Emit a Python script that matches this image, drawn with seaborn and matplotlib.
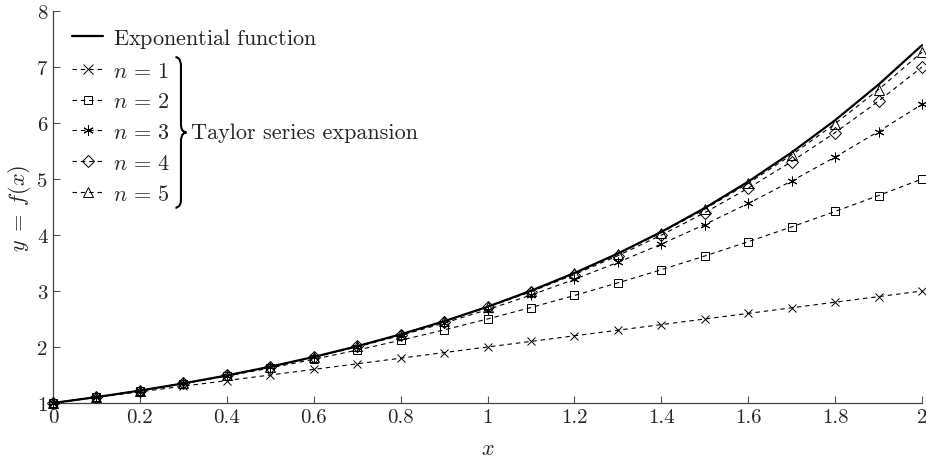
import numpy as np
import pandas as pd
import seaborn as sns
import matplotlib
matplotlib.use("Agg")
import matplotlib.pyplot as plt
from matplotlib.lines import Line2D
from matplotlib.path import Path
from matplotlib.patches import PathPatch

# ---------------- data ----------------
x_vals = [0.0, 0.1, 0.2, 0.3, 0.4, 0.5, 0.6, 0.7, 0.8, 0.9, 1.0,
          1.1, 1.2, 1.3, 1.4, 1.5, 1.6, 1.7, 1.8, 1.9, 2.0]
exp_vals = [1.0, 1.10517, 1.22140, 1.34986, 1.49182, 1.64872, 1.82212, 2.01375,
            2.22554, 2.45960, 2.71828, 3.00417, 3.32012, 3.66930, 4.05520,
            4.48169, 4.95303, 5.47395, 6.04965, 6.68589, 7.38906]
n1_vals = [1.0, 1.1, 1.2, 1.3, 1.4, 1.5, 1.6, 1.7, 1.8, 1.9, 2.0,
           2.1, 2.2, 2.3, 2.4, 2.5, 2.6, 2.7, 2.8, 2.9, 3.0]
n2_vals = [1.0, 1.105, 1.22, 1.345, 1.48, 1.625, 1.78, 1.945, 2.12, 2.305, 2.5,
           2.705, 2.92, 3.145, 3.38, 3.625, 3.88, 4.145, 4.42, 4.705, 5.0]
n3_vals = [1.0, 1.10517, 1.22133, 1.3495, 1.49067, 1.64583, 1.816, 2.00217,
           2.20533, 2.4265, 2.66667, 2.92683, 3.208, 3.51117, 3.83733, 4.1875,
           4.56267, 4.96383, 5.392, 5.84817, 6.33333]
n4_vals = [1.0, 1.10517, 1.2214, 1.34984, 1.49173, 1.64844, 1.8214, 2.01217,
           2.2224, 2.45384, 2.70833, 2.98784, 3.2944, 3.63017, 3.9974, 4.39844,
           4.83573, 5.31184, 5.8294, 6.39117, 7.0]
n5_vals = [1.0, 1.10517, 1.2214, 1.34986, 1.49182, 1.6487, 1.82205, 2.01357,
           2.22513, 2.45876, 2.71667, 3.00126, 3.31514, 3.66111, 4.04222, 4.46172,
           4.92311, 5.43016, 5.98686, 6.59751, 7.26667]
series_labels = [r"$n\,=\,1$", r"$n\,=\,2$", r"$n\,=\,3$", r"$n\,=\,4$", r"$n\,=\,5$"]
exp_label = r"$\mathrm{Exponential\ function}$"
brace_label = "Taylor series expansion"
x_ticks = [0, 0.2, 0.4, 0.6, 0.8, 1, 1.2, 1.4, 1.6, 1.8, 2]
y_ticks = [1, 2, 3, 4, 5, 6, 7, 8]

# ---------------- style ----------------
sns.set_style("white")
plt.rcParams["font.family"] = ["cmr10", "DejaVu Serif"]
plt.rcParams["mathtext.fontset"] = "cm"
plt.rcParams["axes.formatter.use_mathtext"] = True
plt.rcParams["axes.unicode_minus"] = False

FS = 16
TFS = 15
fig = plt.figure(figsize=(9.26, 4.64), dpi=100)
ax = fig.add_axes([53 / 926, 1 - 404 / 464, (922 - 53) / 926, (404 - 12) / 464])

markers = ["x", "s", (6, 2, 0), "D", "^"]
msizes = [6, 5.5, 7, 6, 7]
series = [n1_vals, n2_vals, n3_vals, n4_vals, n5_vals]

handles = [Line2D([], [], color="black", lw=1.6)]
for vals, m, ms in zip(series, markers, msizes):
    df = pd.DataFrame({"x": x_vals, "y": vals})
    sns.lineplot(data=df, x="x", y="y", ax=ax, color="black", lw=0.8,
                 linestyle=(0, (4, 3.5)), marker=m, markersize=ms,
                 markerfacecolor="none", markeredgecolor="black",
                 markeredgewidth=0.7, clip_on=False, zorder=3)
    handles.append(Line2D([], [], color="black", lw=0.8, linestyle=(0, (4, 3.5)),
                          marker=m, markersize=ms + 0.5, markerfacecolor="none",
                          markeredgecolor="black", markeredgewidth=0.7))

df_exp = pd.DataFrame({"x": x_vals, "y": exp_vals})
sns.lineplot(data=df_exp, x="x", y="y", ax=ax, color="black", lw=1.6, zorder=4,
             clip_on=False)

ax.set_xlim(0, 2)
ax.set_ylim(1, 8)
ax.set_xticks(x_ticks)
ax.set_yticks(y_ticks)
ax.set_xticklabels([f"{v:g}" for v in x_ticks])
ax.set_yticklabels([f"{v:g}" for v in y_ticks])
ax.tick_params(axis="both", direction="in", length=5, width=0.8, color="#555555",
               labelsize=TFS, left=True, bottom=True, top=False, right=False)
ax.tick_params(axis="x", pad=4)
ax.tick_params(axis="y", pad=4)
for s in ["top", "right"]:
    ax.spines[s].set_visible(False)
for s in ["left", "bottom"]:
    ax.spines[s].set_color("#444444")
    ax.spines[s].set_linewidth(0.9)
ax.set_xlabel(r"$x$", fontsize=FS, labelpad=9)
ax.set_ylabel(r"$y\;=\;f(x)$", fontsize=FS, labelpad=3)

labels = [exp_label] + series_labels
leg = ax.legend(handles, labels, loc="upper left", frameon=False, fontsize=FS,
                bbox_to_anchor=(72 / 926, 1 - 27 / 464), bbox_transform=fig.transFigure,
                borderpad=0, borderaxespad=0, handlelength=1.4, handletextpad=0.45,
                labelspacing=0.5, numpoints=1)

fig.canvas.draw()
renderer = fig.canvas.get_renderer()
texts = leg.get_texts()
bb1 = texts[1].get_window_extent(renderer)
bb5 = texts[5].get_window_extent(renderer)
right = max(t.get_window_extent(renderer).x1 for t in texts[1:])

# curly brace in display pixels
x0 = right + 5
w = 11
ytop = bb1.y1 + 4
ybot = bb5.y0 - 4
ym = (ytop + ybot) / 2
r = 8
xm = x0 + w / 2
verts = [(x0, ytop), (xm, ytop), (xm, ytop - r), (xm, ytop - r),
         (xm, ym + r),
         (xm, ym), (x0 + w, ym), (x0 + w, ym),
         (xm, ym), (xm, ym - r), (xm, ym - r),
         (xm, ybot + r),
         (xm, ybot), (x0, ybot), (x0, ybot)]
codes = [Path.MOVETO, Path.CURVE4, Path.CURVE4, Path.CURVE4,
         Path.LINETO,
         Path.CURVE4, Path.CURVE4, Path.CURVE4,
         Path.CURVE4, Path.CURVE4, Path.CURVE4,
         Path.LINETO,
         Path.CURVE4, Path.CURVE4, Path.CURVE4]
inv = fig.transFigure.inverted()
verts_fig = inv.transform(np.array(verts))
fig.add_artist(PathPatch(Path(verts_fig, codes), transform=fig.transFigure,
                         facecolor="none", edgecolor="black", lw=1.5))
tx, ty = inv.transform((x0 + w + 5, ym))
fig.text(tx, ty, brace_label, fontsize=FS, va="center", ha="left")

fig.savefig("out.png", dpi=100)
